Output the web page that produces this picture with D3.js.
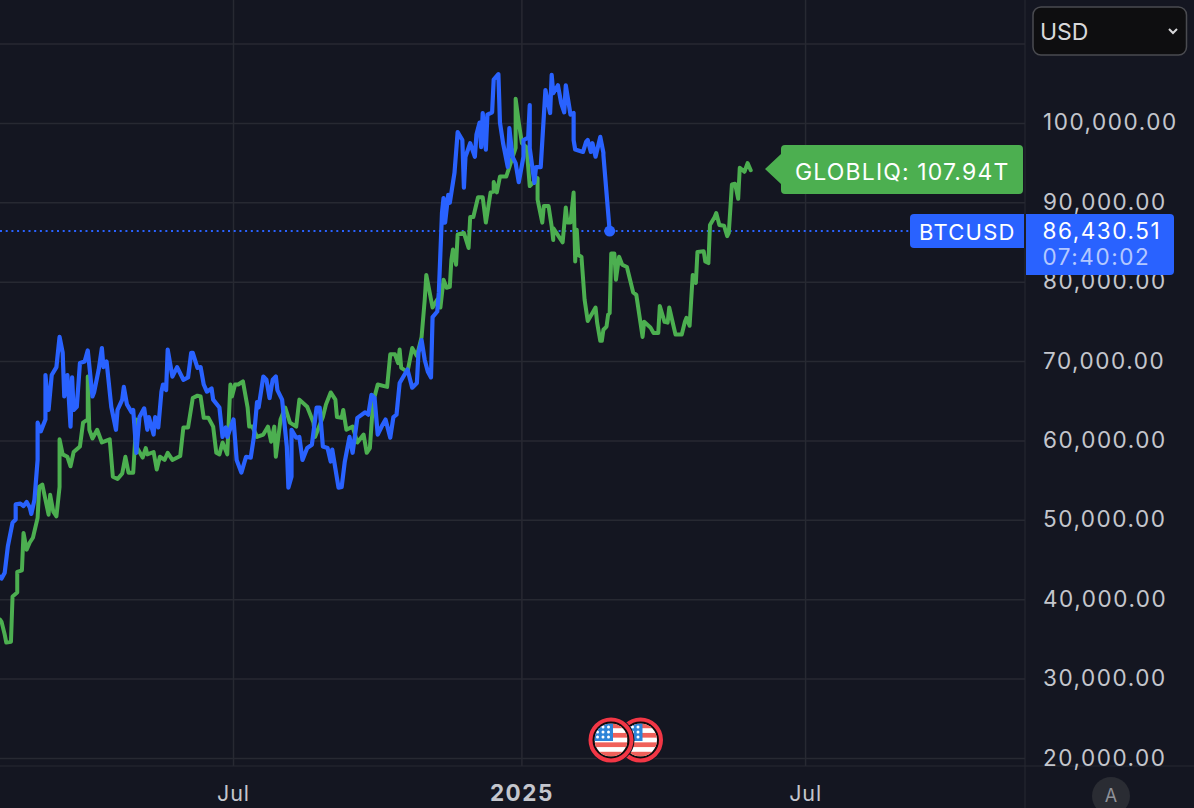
<!DOCTYPE html>
<html><head><meta charset="utf-8">
<script src="https://cdn.jsdelivr.net/npm/d3@7/dist/d3.min.js"></script>
<style>
html,body{margin:0;padding:0;background:#141621;overflow:hidden}
svg{display:block}
text{font-family:Inter,"Noto Sans",sans-serif}
</style></head><body><div id="chart"></div>
<script>
// Days counted from 2024-02-03
const btcDays=[0,1,3,5,8,10,10,13,15,17,19,20,22,23,24,24,26,29,29,31,33,36,38,40,41,43,45,46,47,49,51,54,56,59,60,63,65,66,68,71,74,75,78,79,81,84,85,87,89,92,94,95,98,99,101,103,104,106,107,110,113,117,120,122,123,126,128,130,132,135,136,140,142,144,145,149,151,154,157,160,162,164,165,168,170,172,174,176,177,180,183,184,186,186,189,191,193,196,199,202,204,206,209,211,212,216,218,220,223,225,228,233,235,237,239,241,244,246,249,251,253,255,260,263,266,267,269,271,273,275,276,279,280,282,283,284,286,287,290,292,295,296,297,300,303,304,306,307,308,310,311,314,315,318,319,321,324,325,327,329,331,334,334,337,338,338,341,342,345,348,351,352,353,356,358,360,361,364,366,366,367,372,374,375,377,378,380,383,385,385,389];
const btcValues=[42900,42650,43400,46700,49700,50100,52000,52100,51800,52300,51600,50800,52600,55100,57600,62300,61200,62700,68300,63900,68300,69300,73100,71100,65600,68300,61800,68000,63900,64300,69800,70000,71400,65600,66100,69000,71700,69300,70000,64300,61400,63900,65200,66800,64600,63600,63900,58500,63000,64100,61400,63000,60800,63000,61700,66200,67100,66400,71500,68100,69300,67700,68000,71100,71100,69200,69300,67100,66200,66600,65200,64200,60500,61700,60500,62700,57600,56000,58000,57900,60500,64900,64200,68100,67700,65400,67700,68100,66400,65200,59300,54100,55500,61400,60400,60500,57600,59100,59500,64200,64200,59300,59100,57400,58900,54100,54200,57400,60500,58500,62900,63600,63300,65800,65400,60800,62000,62700,60400,63000,63300,67300,69000,66700,67300,71100,72700,70200,68700,68000,75600,76300,78700,88700,90600,87500,91000,90000,93800,98900,97900,91900,95800,97500,95800,98600,100100,97000,101300,96700,101100,101400,105500,106200,100100,97500,94500,99400,95800,95000,92600,95800,97900,98200,102300,96900,92500,94500,94500,104200,101300,106100,103800,104800,102600,101400,104800,101100,101300,97900,96700,96400,97700,97900,96400,97500,95800,98300,96300,96000,86430.51];
const liqDays=[0,1,3,4,7,8,11,11,14,15,17,19,21,24,25,27,31,32,34,36,38,38,40,43,45,47,51,53,56,56,57,59,62,65,70,72,75,78,80,82,85,87,87,91,93,94,98,100,102,105,107,110,115,117,120,123,126,128,130,133,136,138,140,142,145,146,147,148,150,152,155,158,159,161,164,168,171,173,175,176,179,182,185,189,191,196,200,201,206,208,211,214,215,218,219,221,225,228,232,234,236,238,241,247,249,252,254,255,256,260,263,266,269,271,272,276,279,281,283,285,287,288,289,291,292,296,299,300,302,305,308,310,313,315,315,317,319,323,325,329,329,331,333,336,338,343,343,346,347,350,352,353,353,359,361,362,364,366,367,368,369,371,373,375,378,380,381,383,384,385,387,388,389,390,392,393,395,397,400,404,406,410,411,415,417,420,421,424,426,427,431,435,437,438,440,442,444,445,449,450,452,453,456,457,459,462,464,465,467,469,471,472,475,477,479];
const liqValues=[37500,37200,35600,34600,34700,40400,40900,43500,43700,48400,46300,47200,47800,50300,54200,54500,50700,53200,51100,50500,54200,60200,58300,58000,56800,58600,59300,62300,62700,68100,61400,60300,61400,59800,60200,55500,55200,55900,58000,56000,56000,62700,59300,57900,59100,58300,58600,56400,58000,57600,58500,57600,58100,61700,61700,65400,65700,65600,62900,62900,61800,58500,58300,59800,58300,62700,67100,65600,67100,67100,67500,64200,61800,61800,60500,60800,61800,59900,61800,58000,62700,64200,62300,61800,65200,64300,62300,60500,63000,64600,66100,65200,63000,62900,63900,61400,61800,59800,60800,58500,59100,64800,67100,66800,70900,70900,69800,71500,69200,68700,71700,70700,73100,77800,80900,76800,77800,76800,80300,79300,79400,82800,84100,82200,86000,86200,84300,88200,88200,90700,90700,87500,91300,91400,92600,91300,93300,93300,94500,96900,103100,100100,97500,97000,92100,93100,90400,87500,89600,89600,87000,85300,86800,85000,89400,87500,87500,91300,82600,86600,83400,83200,77800,75100,76100,76800,74900,72600,72600,74000,74400,75900,76100,83600,83600,80300,83200,82200,81900,78700,78400,73100,75000,74300,73600,73600,77000,75000,74900,76800,73400,73400,75000,75500,74500,80900,79900,83800,83900,82600,82400,87200,88200,88700,87200,87100,85800,86200,92300,92400,90500,94400,93900,95000,94100];
const priceTicks=[110000,100000,90000,80000,70000,60000,50000,40000,30000,20000];
const timeTicks=["2024-07-01","2025-01-01","2025-07-01"];
const lastPrice=86430.51;
const priceLabel="86,430.51", countdown="07:40:02", btcName="BTCUSD", liqLabel="GLOBLIQ: 107.94T", currency="USD";

const W=1194,H=808,paneR=1025,paneB=766;
const c={bg:"#141621",grid:"#272932",blue:"#2962ff",green:"#4caf50",txt:"#d1d4dc"};
const t0=new Date(2024,1,3);
const asDate=d=>d3.timeDay.offset(t0,d);
const x=d3.scaleTime().domain([t0,asDate(654)]).range([0,paneR]);
const y=d3.scaleLinear().domain([20000,110000]).range([758.4,44]);
const svg=d3.select("#chart").append("svg").attr("width",W).attr("height",H);
svg.append("rect").attr("width",W).attr("height",H).attr("fill",c.bg);

// grid
const tDates=timeTicks.map(d3.isoParse).map(d=>new Date(d.getUTCFullYear(),d.getUTCMonth(),d.getUTCDate()));
svg.append("g").selectAll("line").data(priceTicks).join("line")
  .attr("x1",0).attr("x2",paneR).attr("y1",d=>y(d)).attr("y2",d=>y(d)).attr("stroke",c.grid).attr("stroke-width",1.5);
svg.append("g").selectAll("line").data(tDates).join("line")
  .attr("x1",d=>x(d)).attr("x2",d=>x(d)).attr("y1",0).attr("y2",paneB).attr("stroke",c.grid).attr("stroke-width",1.5);
svg.append("line").attr("x1",paneR).attr("x2",paneR).attr("y1",0).attr("y2",H).attr("stroke",c.grid).attr("stroke-width",1);
svg.append("line").attr("x1",0).attr("x2",W).attr("y1",paneB).attr("y2",paneB).attr("stroke",c.grid).attr("stroke-width",1);

// last price line
svg.append("line").attr("x1",0).attr("x2",910).attr("y1",y(lastPrice)).attr("y2",y(lastPrice))
  .attr("stroke",c.blue).attr("stroke-width",2).attr("stroke-dasharray","2 3.7");

// series
const line=d3.line().x(d=>x(asDate(d[0]))).y(d=>y(d[1]));
const liq=d3.zip(liqDays,liqValues), btc=d3.zip(btcDays,btcValues);
svg.append("path").datum(liq).attr("d",line).attr("fill","none").attr("stroke",c.green).attr("stroke-width",4).attr("stroke-linejoin","round").attr("stroke-linecap","round");
svg.append("path").datum(btc).attr("d",line).attr("fill","none").attr("stroke",c.blue).attr("stroke-width",4.2).attr("stroke-linejoin","round").attr("stroke-linecap","round");
svg.append("circle").attr("cx",x(asDate(btcDays[btcDays.length-1]))).attr("cy",y(lastPrice)).attr("r",5.5).attr("fill",c.blue);

// y axis
const yAxis=d3.axisRight(y).tickValues(priceTicks.slice(1)).tickSize(0).tickPadding(0).tickFormat(d3.format(",.2f"));
const gy=svg.append("g").attr("transform","translate(1043,-1.5)").call(yAxis);
gy.select(".domain").remove();
gy.selectAll("text").attr("fill","#c4c6cd").attr("font-size",22.5).attr("letter-spacing",1.55).attr("font-family","Inter").attr("dy","0.36em");

// x axis
const xAxis=d3.axisBottom(x).tickValues(tDates).tickSize(0).tickPadding(0)
  .tickFormat(d=>d.getMonth()===0?String(d.getFullYear()):"Jul");
const gx=svg.append("g").attr("transform","translate(-0.5,785.5)").call(xAxis);
gx.select(".domain").remove();
gx.selectAll("text").attr("fill","#c4c6cd").attr("font-size",21.5).attr("font-family","Inter").attr("letter-spacing",0.9)
  .attr("font-weight",d=>d.getMonth()===0?700:400);
gx.selectAll("text").filter(d=>d.getMonth()===0).attr("font-size",22.5).attr("letter-spacing",1.5);

// GLOBLIQ label
const glY=169;
svg.append("path").attr("d",`M765,${glY}L781,${glY-15}V149a4,4 0 0 1 4,-4H1019a4,4 0 0 1 4,4V190a4,4 0 0 1 -4,4H785a4,4 0 0 1 -4,-4V${glY+15}Z`).attr("fill",c.green);
svg.append("text").attr("x",795).attr("y",179.5).attr("fill","#fff").attr("font-size",23).attr("letter-spacing",1.15).text(liqLabel);

// BTC labels
svg.append("path").attr("d","M914,214H1024V248H914a4,4 0 0 1 -4,-4V218a4,4 0 0 1 4,-4Z").attr("fill",c.blue);
svg.append("text").attr("x",919).attr("y",239.5).attr("fill","#fff").attr("font-size",22).attr("letter-spacing",1.25).text(btcName);
svg.append("path").attr("d","M1026,214H1170a4,4 0 0 1 4,4V271a4,4 0 0 1 -4,4H1026Z").attr("fill",c.blue);
svg.append("text").attr("x",1042.5).attr("y",238.5).attr("fill","#fff").attr("font-size",22.5).attr("letter-spacing",1.55).text(priceLabel);
svg.append("text").attr("x",1042.5).attr("y",265).attr("fill","#b4c8ff").attr("font-size",22.5).attr("letter-spacing",1.55).text(countdown);

// Currency selector
svg.append("rect").attr("x",1033).attr("y",7).attr("width",153.5).attr("height",48).attr("rx",8).attr("fill","#0e0e10").attr("stroke","#4a4b50").attr("stroke-width",1.5);
svg.append("text").attr("x",1040).attr("y",39.5).attr("fill","#d8d8da").attr("font-size",23).text(currency);
svg.append("path").attr("d","M1169,29l4,4l4,-4").attr("fill","none").attr("stroke","#d8d8da").attr("stroke-width",2);

// Auto button
svg.append("circle").attr("cx",1111).attr("cy",796).attr("r",19).attr("fill","#2a2c33");
svg.append("text").attr("x",1111).attr("y",802).attr("text-anchor","middle").attr("fill","#8f9198").attr("font-size",18).text("A");

// Event flags
const defs=svg.append("defs");
function flag(cx,id){
  const cy=740,r=16.5;
  defs.append("clipPath").attr("id",id).append("circle").attr("cx",cx).attr("cy",cy).attr("r",r);
  const g=svg.append("g");
  g.append("circle").attr("cx",cx).attr("cy",cy).attr("r",23.5).attr("fill",c.bg);
  g.append("circle").attr("cx",cx).attr("cy",cy).attr("r",20.5).attr("fill","#0b0b0d").attr("stroke","#f23645").attr("stroke-width",4);
  const f=g.append("g").attr("clip-path",`url(#${id})`);
  f.append("rect").attr("x",cx-r).attr("y",cy-r).attr("width",2*r).attr("height",2*r).attr("fill","#fff");
  d3.range(0,7,2).forEach(i=>f.append("rect").attr("x",cx-r).attr("y",cy-r+i*2*r/7).attr("width",2*r).attr("height",2*r/7).attr("fill","#f0605a"));
  f.append("rect").attr("x",cx-r).attr("y",cy-r).attr("width",r+2).attr("height",r+1).attr("fill","#2d84d8");
  d3.range(3).forEach(a=>d3.range(3).forEach(b=>f.append("circle").attr("cx",cx-r+3+b*5.5).attr("cy",cy-r+3.5+a*5).attr("r",1.5).attr("fill","#fff")));
}
flag(640.5,"fa"); flag(611,"fb");
</script></body></html>
